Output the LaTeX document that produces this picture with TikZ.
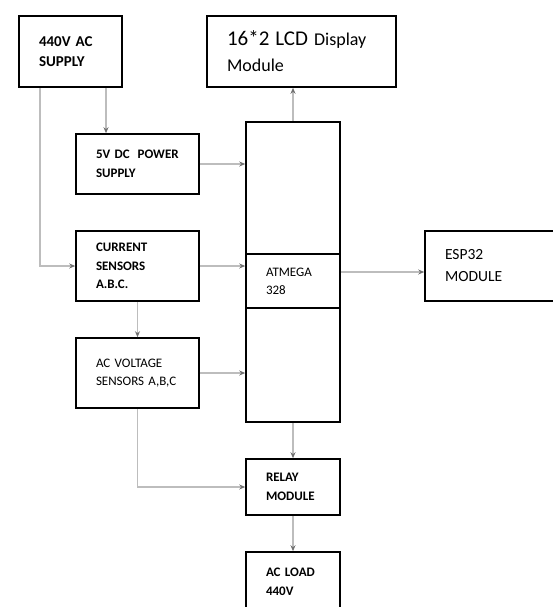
\documentclass[tikz,border=0pt]{standalone}
\usepackage{fontspec}
\setmainfont{Carlito}
\usetikzlibrary{arrows.meta,positioning}
\definecolor{wire}{HTML}{BDBDBD}
\definecolor{tipgray}{HTML}{707070}
\tikzset{
  blk/.style={draw=black,line width=1.6pt,fill=white,inner xsep=20pt,inner ysep=0pt,align=left},
  lbl/.style={font=\fontsize{13}{18}\selectfont},
  lblb/.style={font=\bfseries\fontsize{13}{18.5}\selectfont},
  arr/.style={wire,line width=1.1pt,-{Stealth[length=6pt,width=5pt,color=tipgray]}},
}

\begin{document}
\begin{tikzpicture}[x=1pt,y=-1pt]
  \clip (0,0) rectangle (553,607);
  % left column: supplies and sensors
  \node[blk,font=\bfseries\fontsize{15}{19.5}\selectfont,text width=63pt,minimum width=103pt,minimum height=71pt] (supply) at (70.5,51.5) {440V AC\\SUPPLY};
  \node[blk,lblb,text width=83pt,minimum width=123pt,minimum height=60pt] (dcps) at (137.5,164) {\mbox{5V DC\hskip 8pt POWER}\\SUPPLY};
  \node[blk,lblb,text width=83pt,minimum width=123pt,minimum height=70pt] (cur) at (137.5,266) {CURRENT\\SENSORS\\A.B.C.};
  \node[blk,lbl,text width=83pt,minimum width=123pt,minimum height=70pt] (volt) at (137.5,373) {AC VOLTAGE\\SENSORS A,B,C};
  % controller column
  \node[blk,font=\fontsize{18}{26}\selectfont,text width=149pt,minimum width=189pt,minimum height=71pt] (lcd) at (301.5,51.5) {{\fontsize{21}{26}\selectfont 16*2 LCD} Display\\Module};
  \node[blk,text width=54pt,minimum width=94pt,minimum height=132pt] (mcutop) at (293,188) {};
  \node[blk,lbl,text width=54pt,minimum width=94pt,minimum height=54pt] (mcu) at (293,281) {ATMEGA\\328};
  \node[blk,text width=54pt,minimum width=94pt,minimum height=114pt] (mcubot) at (293,365) {};
  \node[blk,font=\fontsize{15.5}{22}\selectfont,text width=95pt,minimum width=135pt,minimum height=70pt] (esp) at (492.5,266) {ESP32\\MODULE};
  \node[blk,lblb,text width=54pt,minimum width=94pt,minimum height=56pt] (relay) at (293,487) {RELAY\\MODULE};
  \node[blk,lblb,text width=54pt,minimum width=94pt,minimum height=60pt] (load) at (293,582) {AC LOAD\\440V};
  % connectors
  \draw[arr] ([xshift=35.5pt]supply.south) -- ([xshift=35.5pt]supply.south |- dcps.north);
  \draw[arr] ([xshift=-30.5pt]supply.south) |- (cur.west);
  \draw[arr] (dcps.east) -- (dcps.east -| mcutop.west);
  \draw[arr] (cur.east) -- (cur.east -| mcu.west);
  \draw[arr] (cur.south) -- (volt.north);
  \draw[arr] (volt.east) -- (volt.east -| mcubot.west);
  \draw[arr] (volt.south) |- (relay.west);
  \draw[arr] (mcutop.north) -- (mcutop.north |- lcd.south);
  \draw[arr] ([yshift=9pt]mcu.east) -- ([yshift=9pt]mcu.east -| esp.west);
  \draw[arr] (mcubot.south) -- (relay.north);
  \draw[arr] (relay.south) -- (load.north);
\end{tikzpicture}
\end{document}
